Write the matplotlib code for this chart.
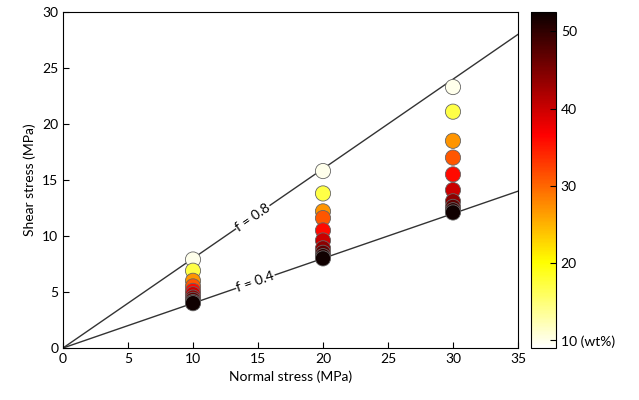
import numpy as np
from matplotlib import pyplot as plt
import matplotlib as mpl

plt.rcParams['font.family'] = ['Lato', 'DejaVu Sans']

# wt% of each sample (colour)
conc = [10, 17, 27, 31, 36, 40, 44, 47, 50, 52]

# shear stress at each normal stress (MPa)
normal = [10, 20, 30]
tau_10 = [7.9, 6.9, 6.0, 5.5, 5.1, 4.8, 4.5, 4.3, 4.1, 4.0]
tau_20 = [15.8, 13.8, 12.2, 11.6, 10.5, 9.6, 8.9, 8.5, 8.2, 8.0]
tau_30 = [23.3, 21.1, 18.5, 17.0, 15.5, 14.1, 13.1, 12.6, 12.3, 12.1]

frictions = [0.8, 0.4]
cbar_ticks = [10, 20, 30, 40, 50]

fig = plt.figure(figsize=(6.39, 4.0), dpi=100)
ax = fig.add_axes([0.0986, 0.13, 0.712, 0.84])
cax = fig.add_axes([0.831, 0.13, 0.039, 0.84])

norm = mpl.colors.Normalize(vmin=9, vmax=52.5)
cmap = plt.get_cmap('hot_r')

xs = np.linspace(0, 35, 2)
for f in frictions:
    ax.plot(xs, f * xs, color='#333333', lw=1.0, zorder=1)

for xn, taus in zip(normal, [tau_10, tau_20, tau_30]):
    ax.scatter([xn] * len(taus), taus, c=conc, cmap=cmap, norm=norm,
               s=120, edgecolors='#666666', linewidths=0.6, zorder=3)

ax.text(14.6, 14.6 * 0.8, 'f = 0.8', rotation=34.5, ha='center', va='center',
        fontsize=10, bbox=dict(fc='white', ec='none', pad=0.5), zorder=2)
ax.text(14.8, 14.8 * 0.4, 'f = 0.4', rotation=19, ha='center', va='center',
        fontsize=10, bbox=dict(fc='white', ec='none', pad=0.5), zorder=2)

ax.set_xlim(0, 35)
ax.set_ylim(0, 30)
ax.set_xticks(range(0, 36, 5))
ax.set_yticks(range(0, 31, 5))
ax.tick_params(direction='in', labelsize=10, length=4)
ax.set_xlabel('Normal stress (MPa)', fontsize=10)
ax.set_ylabel('Shear stress (MPa)', fontsize=10)

cb = mpl.colorbar.ColorbarBase(cax, cmap=cmap, norm=norm)
cb.set_ticks(cbar_ticks)
cb.set_ticklabels(['10 (wt%)', '20', '30', '40', '50'])
cax.tick_params(direction='in', labelsize=10, length=4)

fig.savefig('out.png', dpi=100)
